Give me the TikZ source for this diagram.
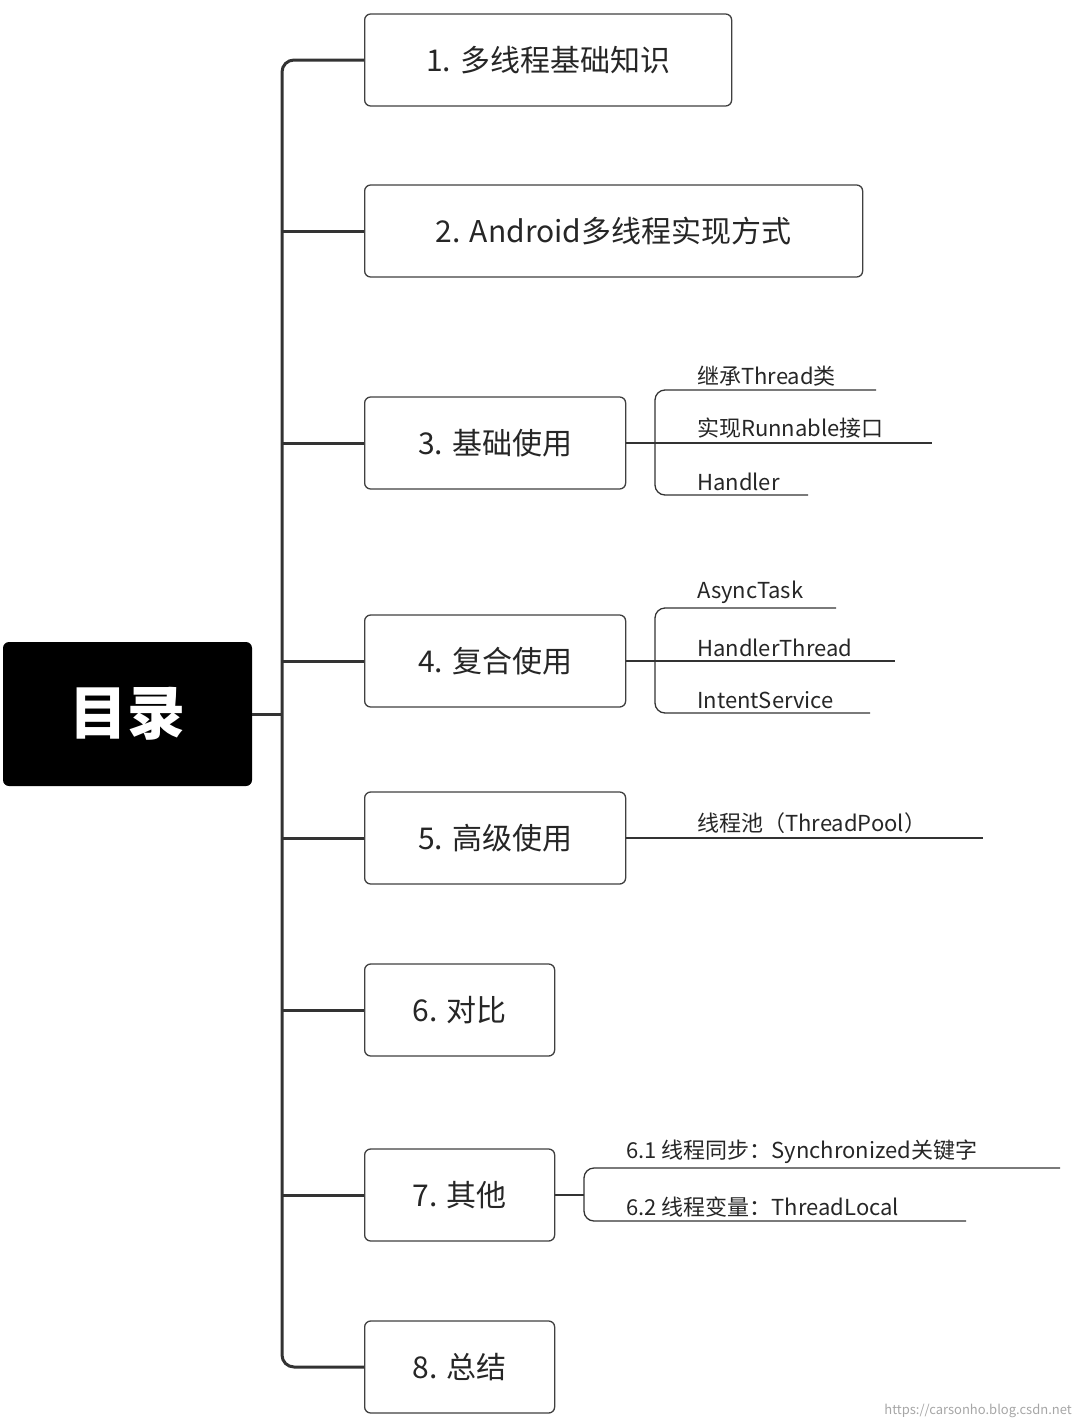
\documentclass[tikz,border=0pt]{standalone}
\usepackage{fontspec}
\setmainfont{Noto Sans CJK SC}
\begin{document}
\begin{tikzpicture}[x=1pt,y=-1pt,
  box/.style={draw=black!75,line width=1.3pt,rounded corners=6pt,fill=white,minimum height=92pt,anchor=west,inner sep=0pt,font=\fontsize{30}{34}\selectfont,text=black!85},
  sub/.style={anchor=south west,inner sep=0pt,font=\fontsize{22}{26}\selectfont,text=black!85},
  tr/.style={line width=3pt,black!80,rounded corners=12pt},
  br/.style={line width=1.3pt,black!80,rounded corners=10pt}]
\useasboundingbox (0,0) rectangle (1080,1424);
\node[fill=black,rounded corners=6pt,minimum width=249pt,minimum height=144pt,text=white,font=\fontsize{58}{64}\selectfont\bfseries,inner sep=0pt] (root) at (127.5,714) {目录};
\node[box,minimum width=367pt] (b1) at (364,60) {1. 多线程基础知识};
\node[box,minimum width=498pt] (b2) at (364,231) {2. Android多线程实现方式};
\node[box,minimum width=261pt] (b3) at (364,443) {3. 基础使用};
\node[box,minimum width=261pt] (b4) at (364,661) {4. 复合使用};
\node[box,minimum width=261pt] (b5) at (364,838) {5. 高级使用};
\node[box,minimum width=190pt] (b6) at (364,1010) {6. 对比};
\node[box,minimum width=190pt] (b7) at (364,1195) {7. 其他};
\node[box,minimum width=190pt] (b8) at (364,1367) {8. 总结};
\draw[tr] (b1.west) -- (282,60) -- (282,1367) -- (b8.west);
\foreach \b in {b2,b3,b4,b5,b6,b7} \draw[tr,rounded corners=0pt] (\b.west -| 282,0) -- (\b.west);
\draw[tr,rounded corners=0pt] (root.east) -- (282,714);
% sub 3
\draw[br] (b3.east) -- (655,443);
\draw[br] (876,390) -- (655,390) -- (655,495) -- (808,495);
\draw[br] (655,443) -- (932,443);
\node[sub] (s31) at (697,386) {继承Thread类};
\node[sub] (s32) at (697,439) {实现Runnable接口};
\node[sub] (s33) at (697,491) {Handler};
% sub 4
\draw[br] (b4.east) -- (655,661);
\draw[br] (836,608) -- (655,608) -- (655,713) -- (870,713);
\draw[br] (655,661) -- (895,661);
\node[sub] (s41) at (697,604) {AsyncTask};
\node[sub] (s42) at (697,657) {HandlerThread};
\node[sub] (s43) at (697,709) {IntentService};
% sub 5
\draw[br] (b5.east) -- (983,838);
\node[sub] (s51) at (697,834) {线程池（ThreadPool）};
% sub 7
\draw[br] (b7.east) -- (584,1195);
\draw[br] (1060,1168) -- (584,1168) -- (584,1221) -- (966,1221);
\node[sub] (s71) at (626,1164) {6.1 线程同步：Synchronized关键字};
\node[sub] (s72) at (626,1217) {6.2 线程变量：ThreadLocal};
\node[anchor=south east,inner sep=0pt,font=\fontsize{13}{15}\selectfont,text=black!35] (wm) at (1072,1418) {https://carsonho.blog.csdn.net};
\end{tikzpicture}
\end{document}
